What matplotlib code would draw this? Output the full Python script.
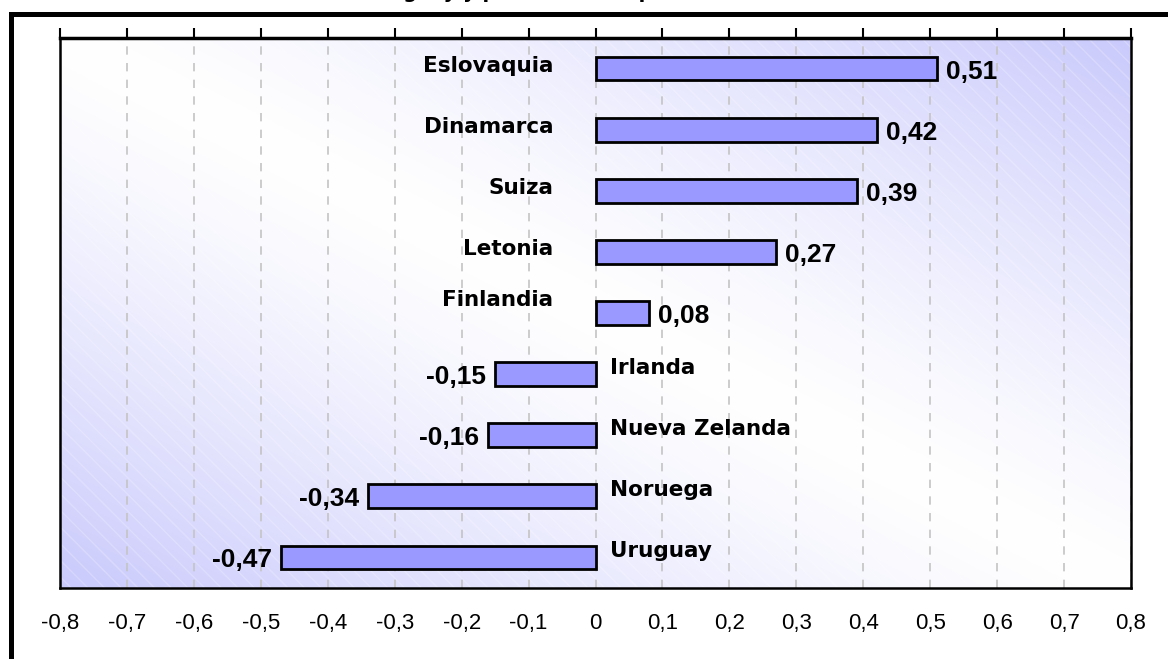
import numpy as np
import matplotlib.pyplot as plt
from matplotlib.patches import Rectangle

# data, top to bottom
countries = ['Eslovaquia', 'Dinamarca', 'Suiza', 'Letonia', 'Finlandia',
             'Irlanda', 'Nueva Zelanda', 'Noruega', 'Uruguay']
values = [0.51, 0.42, 0.39, 0.27, 0.08, -0.15, -0.16, -0.34, -0.47]
xticks = [-0.8, -0.7, -0.6, -0.5, -0.4, -0.3, -0.2, -0.1, 0,
          0.1, 0.2, 0.3, 0.4, 0.5, 0.6, 0.7, 0.8]

# label nudges (pixels) where the original moved a label by hand
nudge = {'Finlandia': 10}

def fmt(v):
    return ('%g' % v).replace('.', ',')

fig = plt.figure(figsize=(11.68, 6.59), dpi=100)
ax = fig.add_axes([60/1168, 71/659, 1071/1168, 550/659])

# background gradient: white along one diagonal, lavender in the corners
gx, gy = np.meshgrid(np.linspace(0, 1, 300), np.linspace(0, 1, 200))
t = np.clip(np.abs(gx + gy - 1.0), 0, 1) ** 1.3
c0 = np.array([1.0, 1.0, 1.0])
c1 = np.array([0.79, 0.79, 0.99])
img = c0[None, None, :] * (1 - t[..., None]) + c1[None, None, :] * t[..., None]
ax.imshow(img, extent=[0, 1, 0, 1], origin='lower', aspect='auto',
          transform=ax.transAxes, zorder=0)
ax.add_patch(Rectangle((0, 0), 1, 1, transform=ax.transAxes, fill=False,
                       hatch='\\\\', edgecolor=(1, 1, 1, 0.22), lw=0, zorder=0.5))

y = np.arange(len(countries))
ax.barh(y, values, height=0.39, color='#9999ff', edgecolor='black',
        linewidth=2, zorder=3)

for g in xticks:
    ax.axvline(g, color='#c4c4c4', lw=1.2, ls=(0, (5, 5)), zorder=1)

namefont = dict(family='DejaVu Sans', weight='bold', fontsize=15.5)
valfont = dict(family='Liberation Sans', weight='bold', fontsize=19)
for yi, name, v in zip(y, countries, values):
    dy = nudge.get(name, 0)
    if v >= 0:
        ax.annotate(name, (0, yi), xytext=(-42, 3 + dy), textcoords='offset pixels',
                    ha='right', va='center', zorder=4, **namefont)
        ax.annotate(fmt(v), (v, yi), xytext=(9, -3), textcoords='offset pixels',
                    ha='left', va='center', zorder=4, **valfont)
    else:
        ax.annotate(name, (0, yi), xytext=(15, 6 + dy), textcoords='offset pixels',
                    ha='left', va='center', zorder=4, **namefont)
        ax.annotate(fmt(v), (v, yi), xytext=(-9, -3), textcoords='offset pixels',
                    ha='right', va='center', zorder=4, **valfont)

ax.set_xlim(-0.8, 0.8)
ax.set_ylim(len(countries) - 0.5, -0.5)
ax.set_yticks([])
ax.set_xticks(xticks)
ax.set_xticklabels([fmt(v) for v in xticks], family='Liberation Sans', fontsize=16)
ax.tick_params(axis='x', top=True, bottom=False, labeltop=False, labelbottom=True,
               direction='out', length=7, width=1.5, pad=11)
for s in ['left', 'right', 'bottom']:
    ax.spines[s].set_linewidth(1.8)
ax.spines['top'].set_linewidth(2.5)

# outer frame (only top and left edges fall inside the picture)
fig.add_artist(Rectangle((10.5/1168, -0.2), 2, (659 - 14.5)/659 + 0.2,
                         transform=fig.transFigure, fill=False,
                         edgecolor='black', lw=3.6))

# title clipped by the top edge
fig.text(0.47, 1.0 + 2/659, 'Uruguay y países de comparación', ha='center',
         va='baseline', family='DejaVu Sans', weight='bold', fontsize=14)

fig.savefig('out.png', dpi=100)
